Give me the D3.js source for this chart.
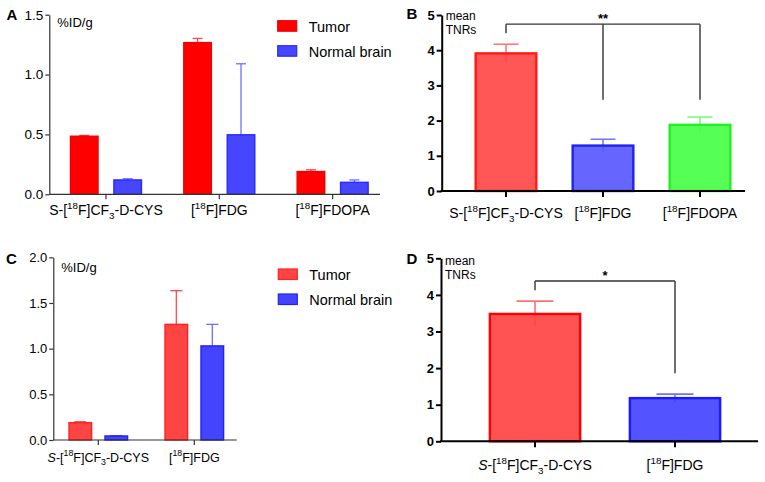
<!DOCTYPE html>
<html lang="en">
<head>
    <meta charset="UTF-8">
    <title>Tumor uptake and TNRs</title>
    <style>
        body { margin: 0; background: #fff; }
        #chart { display: block; }
        text { font-family: "Liberation Sans", Arial, sans-serif; fill: #000; }
    </style>
</head>
<body>
    <svg id="chart" width="765" height="482"></svg>

    <script src="https://d3js.org/d3.v7.min.js"></script>
    <script>
        // ---- data ----
        // ^..^ superscript, _.._ subscript, *..* italic
        const groupsA = ["S-[^18^F]CF_3_-D-CYS", "[^18^F]FDG", "[^18^F]FDOPA"];
        const seriesNames = ["Tumor", "Normal brain"];
        const tumorA = [0.485, 1.267, 0.19];
        const tumorErrA = [0.007, 0.035, 0.015];
        const brainA = [0.12, 0.497, 0.10];
        const brainErrA = [0.01, 0.593, 0.02];
        const ticksA = [0, 0.5, 1.0, 1.5];

        const groupsB = ["S-[^18^F]CF_3_-D-CYS", "[^18^F]FDG", "[^18^F]FDOPA"];
        const tnrB = [3.91, 1.29, 1.88];
        const tnrErrB = [0.26, 0.18, 0.22];
        const ticksB = [0, 1, 2, 3, 4, 5];
        // bracket: level, leg end at first group, leg ends at the compared groups
        const bracketB = { level: 4.74, from: 0, fromEnd: 4.48, to: [1, 2], toEnd: [2.59, 2.59], mark: "**" };

        const groupsC = ["*S*-[^18^F]CF_3_-D-CYS", "[^18^F]FDG"];
        const tumorC = [0.19, 1.266];
        const tumorErrC = [0.01, 0.369];
        const brainC = [0.044, 1.03];
        const brainErrC = [0.004, 0.236];
        const ticksC = [0, 0.5, 1.0, 1.5, 2.0];

        const groupsD = ["*S*-[^18^F]CF_3_-D-CYS", "[^18^F]FDG"];
        const tnrD = [3.48, 1.18];
        const tnrErrD = [0.35, 0.11];
        const ticksD = [0, 1, 2, 3, 4, 5];
        const bracketD = { level: 4.38, from: 0, fromEnd: 4.13, to: [1], toEnd: [1.86], mark: "*" };

        const svg = d3.select("#chart");

        // write a label with sub/superscripts into a text element
        function richText(sel, label, size) {
            const parts = label.match(/\^[^^]+\^|_[^_]+_|\*[^*]+\*|[^^_*]+/g);
            let shift = 0;
            parts.forEach(p => {
                let kind = "n", t = p;
                if (p[0] === "^") { kind = "sup"; t = p.slice(1, -1); }
                else if (p[0] === "_") { kind = "sub"; t = p.slice(1, -1); }
                else if (p[0] === "*") { kind = "i"; t = p.slice(1, -1); }
                const target = kind === "sup" ? -0.42 * size : kind === "sub" ? 0.28 * size : 0;
                sel.append("tspan")
                    .attr("dy", target - shift)
                    .attr("font-size", kind === "sup" || kind === "sub" ? size * 0.7 : size)
                    .attr("font-style", kind === "i" ? "italic" : null)
                    .text(t);
                shift = target;
            });
        }

        function errorBars(g, items, cap, width) {
            g.selectAll(null).data(items).enter().append("line")
                .attr("x1", d => d.x).attr("x2", d => d.x)
                .attr("y1", d => d.yLow).attr("y2", d => d.yHigh)
                .attr("stroke", d => d.err).attr("stroke-width", width);
            g.selectAll(null).data(items).enter().append("line")
                .attr("x1", d => d.x - cap / 2).attr("x2", d => d.x + cap / 2)
                .attr("y1", d => d.yHigh).attr("y2", d => d.yHigh)
                .attr("stroke", d => d.err).attr("stroke-width", width);
        }

        function panelLetter(letter, x, y) {
            svg.append("text").attr("x", x).attr("y", y)
                .attr("font-size", 15).attr("font-weight", "bold").text(letter);
        }

        // ---- grouped panels (A, C) ----
        function groupedPanel(o) {
            const g = svg.append("g");
            const y = d3.scaleLinear().domain([0, o.ticks[o.ticks.length - 1]]).range(o.yRange);
            const x0 = d3.scaleBand().domain(o.groups).range(o.bandRange).paddingInner(0).paddingOuter(0);
            const x1 = d3.scaleBand().domain(seriesNames)
                .range([-o.inner, o.inner]).paddingInner(0.333).paddingOuter(0);

            const values = [o.tumor, o.brain];
            const errs = [o.tumorErr, o.brainErr];
            const rows = [];
            o.groups.forEach((grp, i) => {
                seriesNames.forEach((s, k) => {
                    rows.push({ grp, s, k, v: values[k][i], e: errs[k][i] });
                });
            });

            // upper error only
            const items = rows.map(r => ({
                x: x0(r.grp) + x0.bandwidth() / 2 + x1(r.s) + x1.bandwidth() / 2,
                yLow: y(r.v), yHigh: y(r.v + r.e), err: o.errColors[r.k]
            }));
            errorBars(g, items, o.cap, 1.3);

            g.selectAll(null).data(rows).enter().append("rect")
                .attr("x", r => x0(r.grp) + x0.bandwidth() / 2 + x1(r.s) + 0.7)
                .attr("y", r => y(r.v))
                .attr("width", x1.bandwidth() - 1.4)
                .attr("height", r => y(0) - y(r.v))
                .attr("fill", r => o.fills[r.k])
                .attr("stroke", r => o.strokes[r.k]).attr("stroke-width", 1.4);

            // y axis
            const ya = g.append("g").attr("transform", `translate(${o.axisX},0)`)
                .call(d3.axisLeft(y).tickValues(o.ticks).tickFormat(d3.format(".1f"))
                    .tickSize(4).tickSizeOuter(0).tickPadding(2));
            ya.selectAll("path, line").attr("stroke", "#333").attr("stroke-width", 1.2);
            ya.selectAll("text").attr("font-size", o.tickFont).attr("fill", "#000")
                .style("font-family", '"Liberation Sans", Arial, sans-serif');

            // x axis
            const xa = g.append("g").attr("transform", `translate(0,${y(0)})`)
                .call(d3.axisBottom(x0).tickSize(5).tickSizeOuter(0));
            xa.select(".domain").remove();
            xa.selectAll("line").attr("stroke", "#333").attr("stroke-width", 1.2);
            xa.selectAll(".tick text").each(function (d) {
                const t = d3.select(this).text(null).attr("dy", null).attr("y", o.labelDy)
                    .attr("fill", "#000").style("font-family", '"Liberation Sans", Arial, sans-serif');
                richText(t, d, o.labelFont);
            });
            g.append("line").attr("x1", o.axisX).attr("x2", o.axisEnd)
                .attr("y1", y(0)).attr("y2", y(0)).attr("stroke", "#333").attr("stroke-width", 1.2);

            g.append("text").attr("x", o.axisX + 8).attr("y", o.unitY)
                .attr("font-size", 13).text("%ID/g");

            // legend
            seriesNames.forEach((s, k) => {
                g.append("rect").attr("x", o.legendX).attr("y", o.legendY + k * 25)
                    .attr("width", 19).attr("height", 10.5)
                    .attr("fill", o.fills[k]).attr("stroke", o.strokes[k]).attr("stroke-width", 1.2);
                g.append("text").attr("x", o.legendX + 31).attr("y", o.legendY + 11 + k * 25)
                    .attr("font-size", 14.5).text(s);
            });
        }

        // ---- single-series TNR panels (B, D) ----
        function tnrPanel(o) {
            const g = svg.append("g");
            const y = d3.scaleLinear().domain([0, o.ticks[o.ticks.length - 1]]).range(o.yRange);
            const x = d3.scaleBand().domain(o.groups).range(o.bandRange)
                .paddingInner(o.pad).paddingOuter(o.pad / 2);
            const cx = i => x(o.groups[i]) + x.bandwidth() / 2;

            // error line runs under the (slightly see-through) bar
            const items = o.groups.map((grp, i) => ({
                x: cx(i), yLow: y(o.values[i] - o.errs[i]), yHigh: y(o.values[i] + o.errs[i]), err: o.errColors[i]
            }));
            errorBars(g, items, o.cap, 1.6);

            g.selectAll(null).data(o.groups).enter().append("rect")
                .attr("x", d => x(d) + 1.2)
                .attr("y", (d, i) => y(o.values[i]))
                .attr("width", x.bandwidth() - 2.4)
                .attr("height", (d, i) => y(0) - y(o.values[i]))
                .attr("fill", (d, i) => o.fills[i]).attr("fill-opacity", 0.9)
                .attr("stroke", (d, i) => o.strokes[i]).attr("stroke-width", 2.4);

            const ya = g.append("g").attr("transform", `translate(${o.axisX},0)`)
                .call(d3.axisLeft(y).tickValues(o.ticks).tickFormat(d3.format("d"))
                    .tickSize(5).tickSizeOuter(0).tickPadding(2));
            ya.selectAll("path, line").attr("stroke", "#000").attr("stroke-width", 2);
            ya.selectAll("text").attr("font-size", 13).attr("font-weight", "bold").attr("fill", "#000")
                .style("font-family", '"Liberation Sans", Arial, sans-serif');

            const xa = g.append("g").attr("transform", `translate(0,${y(0)})`)
                .call(d3.axisBottom(x).tickSize(6).tickSizeOuter(0));
            xa.select(".domain").remove();
            xa.selectAll("line").attr("stroke", "#000").attr("stroke-width", 2);
            xa.selectAll(".tick text").each(function (d) {
                const t = d3.select(this).text(null).attr("dy", null).attr("y", o.labelDy)
                    .attr("fill", "#000").style("font-family", '"Liberation Sans", Arial, sans-serif');
                richText(t, d, 14);
            });
            g.append("line").attr("x1", o.axisX - 1).attr("x2", o.axisEnd)
                .attr("y1", y(0)).attr("y2", y(0)).attr("stroke", "#000").attr("stroke-width", 2);

            g.append("text").attr("x", o.axisX + 4).attr("y", o.unitY).attr("font-size", 12).text("mean");
            g.append("text").attr("x", o.axisX + 4).attr("y", o.unitY + 14).attr("font-size", 12).text("TNRs");

            // significance bracket
            const b = o.bracket;
            const last = b.to[b.to.length - 1];
            const br = g.append("g").attr("stroke", "#333").attr("stroke-width", 1.4).attr("fill", "none");
            br.append("line").attr("x1", cx(b.from)).attr("x2", cx(last))
                .attr("y1", y(b.level)).attr("y2", y(b.level));
            br.append("line").attr("x1", cx(b.from)).attr("x2", cx(b.from))
                .attr("y1", y(b.level)).attr("y2", y(b.fromEnd));
            b.to.forEach((t, k) => {
                br.append("line").attr("x1", cx(t)).attr("x2", cx(t))
                    .attr("y1", y(b.level)).attr("y2", y(b.toEnd[k]));
            });
            g.append("text").attr("x", (cx(b.from) + cx(last)) / 2).attr("y", y(b.level) - 1)
                .attr("text-anchor", "middle").attr("font-size", 13).attr("font-weight", "bold").text(b.mark);
        }

        groupedPanel({
            groups: groupsA, tumor: tumorA, tumorErr: tumorErrA, brain: brainA, brainErr: brainErrA,
            ticks: ticksA, yRange: [194.3, 14.7], bandRange: [49.3, 389.3], inner: 36.2,
            axisX: 49.3, axisEnd: 380, cap: 10, tickFont: 13.5, labelFont: 14, labelDy: 20.7, unitY: 26.7,
            fills: ["#ff0000", "#4646ff"], strokes: ["#f00000", "#2a2aff"], errColors: ["#ff4a4a", "#6e6eff"],
            legendX: 277.7, legendY: 20.7
        });

        tnrPanel({
            groups: groupsB, values: tnrB, errs: tnrErrB, ticks: ticksB, bracket: bracketB,
            yRange: [191, 15], bandRange: [457.5, 748.5], pad: 0.35, axisX: 441.7, axisEnd: 745,
            cap: 25, labelDy: 27.3, unitY: 20,
            fills: ["#ff4444", "#5555ff", "#44ff44"], strokes: ["#ff1a1a", "#2222ee", "#22ee22"],
            errColors: ["#ff7777", "#7777ff", "#77ff77"]
        });

        groupedPanel({
            groups: groupsC, tumor: tumorC, tumorErr: tumorErrC, brain: brainC, brainErr: brainErrC,
            ticks: ticksC, yRange: [440, 257.3], bandRange: [50.3, 242.3], inner: 30,
            axisX: 53.3, axisEnd: 236.7, cap: 12, tickFont: 13, labelFont: 12.5, labelDy: 21.7, unitY: 271.7,
            fills: ["#ff4444", "#4444ff"], strokes: ["#ff2222", "#2222ee"], errColors: ["#ff4a4a", "#6e6eff"],
            legendX: 278.3, legendY: 269
        });

        tnrPanel({
            groups: groupsD, values: tnrD, errs: tnrErrD, ticks: ticksD, bracket: bracketD,
            yRange: [441.3, 258.3], bandRange: [465, 745], pad: 0.338, axisX: 441, axisEnd: 758,
            cap: 37, labelDy: 28.7, unitY: 265,
            fills: ["#ff4040", "#4040ff"], strokes: ["#ff0000", "#1a1aff"],
            errColors: ["#ff7070", "#7070ff"]
        });

        panelLetter("A", 6.5, 20);
        panelLetter("B", 406.5, 19);
        panelLetter("C", 6, 263.5);
        panelLetter("D", 406.5, 263.5);
    </script>
</body>
</html>
